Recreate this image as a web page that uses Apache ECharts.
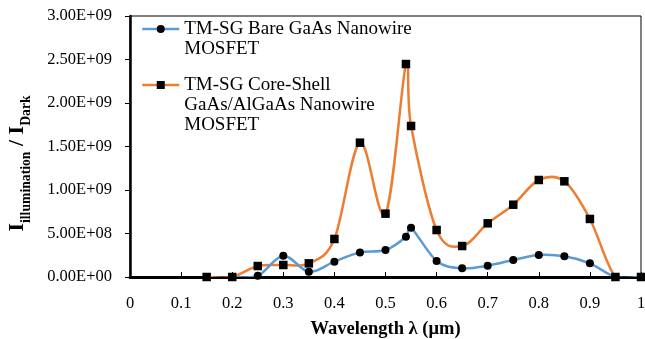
<!DOCTYPE html>
<html>
<head>
<meta charset="utf-8">
<script src="https://cdn.jsdelivr.net/npm/echarts@6/dist/echarts.min.js"></script>
<style>
html,body{margin:0;padding:0;background:#fff;}
#chart{width:645px;height:339px;}
</style>
</head>
<body>
<div id="chart"></div>
<script>
// Data
var coreShellWavelength = [0.15, 0.2, 0.25, 0.3, 0.35, 0.4, 0.45, 0.5, 0.54, 0.55, 0.6, 0.65, 0.7, 0.75, 0.8, 0.85, 0.9, 0.95, 1.0];
var coreShellValues = [0, 0, 1.26e8, 1.38e8, 1.57e8, 4.37e8, 1.544e9, 7.28e8, 2.448e9, 1.736e9, 5.4e8, 3.56e8, 6.17e8, 8.31e8, 1.115e9, 1.10e9, 6.67e8, 0, 0];
var bareWavelength = [0.2, 0.25, 0.3, 0.35, 0.4, 0.45, 0.5, 0.54, 0.55, 0.6, 0.65, 0.7, 0.75, 0.8, 0.85, 0.9, 0.95, 1.0];
var bareValues = [0, 1.5e7, 2.45e8, 6e7, 1.76e8, 2.83e8, 3.1e8, 4.63e8, 5.67e8, 1.85e8, 1.0e8, 1.3e8, 1.95e8, 2.53e8, 2.38e8, 1.57e8, 0, 0];
var seriesNames = ['TM-SG Bare GaAs Nanowire\nMOSFET', 'TM-SG Core-Shell\nGaAs/AlGaAs Nanowire\nMOSFET'];
var xTicks = [0, 0.1, 0.2, 0.3, 0.4, 0.5, 0.6, 0.7, 0.8, 0.9, 1];
var yTicks = [0, 5e8, 1e9, 1.5e9, 2e9, 2.5e9, 3e9];

var BLUE = '#5B9BD5', ORANGE = '#ED7D31', FONT = 'Liberation Serif', LW = 2.5;

function pairs(xs, ys) { return xs.map(function (x, i) { return [x, ys[i]]; }); }
function sci(v) {
  if (v === 0) return '0.00E+00';
  var e = Math.floor(Math.log10(Math.abs(v)) + 1e-9);
  var m = v / Math.pow(10, e);
  var es = (e < 0 ? '-' : '+') + (Math.abs(e) < 10 ? '0' : '') + Math.abs(e);
  return m.toFixed(2) + 'E' + es;
}
// Smoothed (Excel-like) curve: each item draws the Bezier segment to the next point,
// with control points taken from its neighbours, all positioned through the axes (api.coord).
function smoothRenderer(color) {
  return function (params, api) {
    var i = params.dataIndexInside, n = params.dataInsideLength;
    if (i >= n - 1) return null;
    function pt(k) {
      k = Math.max(0, Math.min(n - 1, k));
      return api.coord([api.value(0, k), api.value(1, k)]);
    }
    var p0 = pt(i - 1), p1 = pt(i), p2 = pt(i + 1), p3 = pt(i + 2);
    var f = 1 / 6;
    return {
      type: 'bezierCurve',
      shape: {
        x1: p1[0], y1: p1[1],
        cpx1: p1[0] + (p2[0] - p0[0]) * f, cpy1: p1[1] + (p2[1] - p0[1]) * f,
        cpx2: p2[0] - (p3[0] - p1[0]) * f, cpy2: p2[1] - (p3[1] - p1[1]) * f,
        x2: p2[0], y2: p2[1]
      },
      style: {stroke: color, lineWidth: LW, fill: null, lineCap: 'round'}
    };
  };
}

var chart = echarts.init(document.getElementById('chart'), null, {renderer: 'canvas'});
chart.setOption({
  animation: false,
  backgroundColor: '#fff',
  textStyle: {fontFamily: FONT},
  grid: {left: 130, right: 4, top: 16, bottom: 62, show: true, borderColor: '#000', borderWidth: 1,
    containLabel: false, outerBoundsMode: 'none'},
  legend: [
    {
      data: [seriesNames[0]], orient: 'vertical', left: 141, top: -1, padding: 0,
      itemWidth: 37, itemHeight: 10, selectedMode: false,
      formatter: function (n) { return '\n' + n; },
      lineStyle: {opacity: 1, width: LW},
      textStyle: {fontFamily: FONT, fontSize: 19, lineHeight: 20, color: '#000'}
    },
    {
      data: [seriesNames[1]], orient: 'vertical', left: 141, top: 35, padding: 0,
      itemWidth: 37, itemHeight: 10, selectedMode: false,
      formatter: function (n) { return '\n\n' + n; },
      lineStyle: {opacity: 1, width: LW},
      textStyle: {fontFamily: FONT, fontSize: 19, lineHeight: 20, color: '#000'}
    }
  ],
  xAxis: {
    type: 'value', min: xTicks[0], max: xTicks[xTicks.length - 1], interval: 0.1,
    name: 'Wavelength λ (μm)', nameLocation: 'middle', nameGap: 43,
    nameTextStyle: {fontFamily: FONT, fontSize: 18.5, fontWeight: 'bold', color: '#000'},
    axisLine: {onZero: false, lineStyle: {color: '#000', width: 3}},
    axisTick: {inside: true, length: 5, lineStyle: {color: '#000', width: 1}},
    axisLabel: {fontFamily: FONT, fontSize: 16.5, color: '#000', margin: 18,
      formatter: function (v) { return String(Math.round(v * 10) / 10); }},
    splitLine: {show: false}
  },
  yAxis: {
    type: 'value', min: yTicks[0], max: yTicks[yTicks.length - 1], interval: 5e8,
    name: '{a|I}{b|illumination}{a| / I}{b|Dark}', nameLocation: 'middle', nameRotate: 90, nameGap: 97,
    nameTextStyle: {
      color: '#000', padding: [0, 34, 0, 0],
      rich: {
        a: {fontFamily: FONT, fontSize: 22, fontWeight: 'bold', lineHeight: 31, verticalAlign: 'middle', color: '#000'},
        b: {fontFamily: FONT, fontSize: 13.7, fontWeight: 'bold', lineHeight: 14, verticalAlign: 'bottom', color: '#000'}
      }
    },
    axisLine: {show: true, lineStyle: {color: '#000', width: 2.5}},
    axisTick: {show: true, inside: false, length: 5, lineStyle: {color: '#000', width: 1}},
    axisLabel: {fontFamily: FONT, fontSize: 16.5, color: '#000', margin: 18, formatter: sci},
    splitLine: {show: false}
  },
  series: [
    {
      name: seriesNames[1] + ' curve', type: 'custom', data: pairs(coreShellWavelength, coreShellValues),
      encode: {x: 0, y: 1}, renderItem: smoothRenderer(ORANGE), clip: true, silent: true, z: 2
    },
    {
      name: seriesNames[0] + ' curve', type: 'custom', data: pairs(bareWavelength, bareValues),
      encode: {x: 0, y: 1}, renderItem: smoothRenderer(BLUE), clip: true, silent: true, z: 2
    },
    {
      name: seriesNames[0], type: 'line', data: pairs(bareWavelength, bareValues),
      symbol: 'circle', symbolSize: 8, z: 3,
      lineStyle: {color: BLUE, width: LW, opacity: 0}, itemStyle: {color: '#000'}
    },
    {
      name: seriesNames[1], type: 'line', data: pairs(coreShellWavelength, coreShellValues),
      symbol: 'rect', symbolSize: 8.5, z: 3,
      lineStyle: {color: ORANGE, width: LW, opacity: 0}, itemStyle: {color: '#000'}
    }
  ]
});
</script>
</body>
</html>
